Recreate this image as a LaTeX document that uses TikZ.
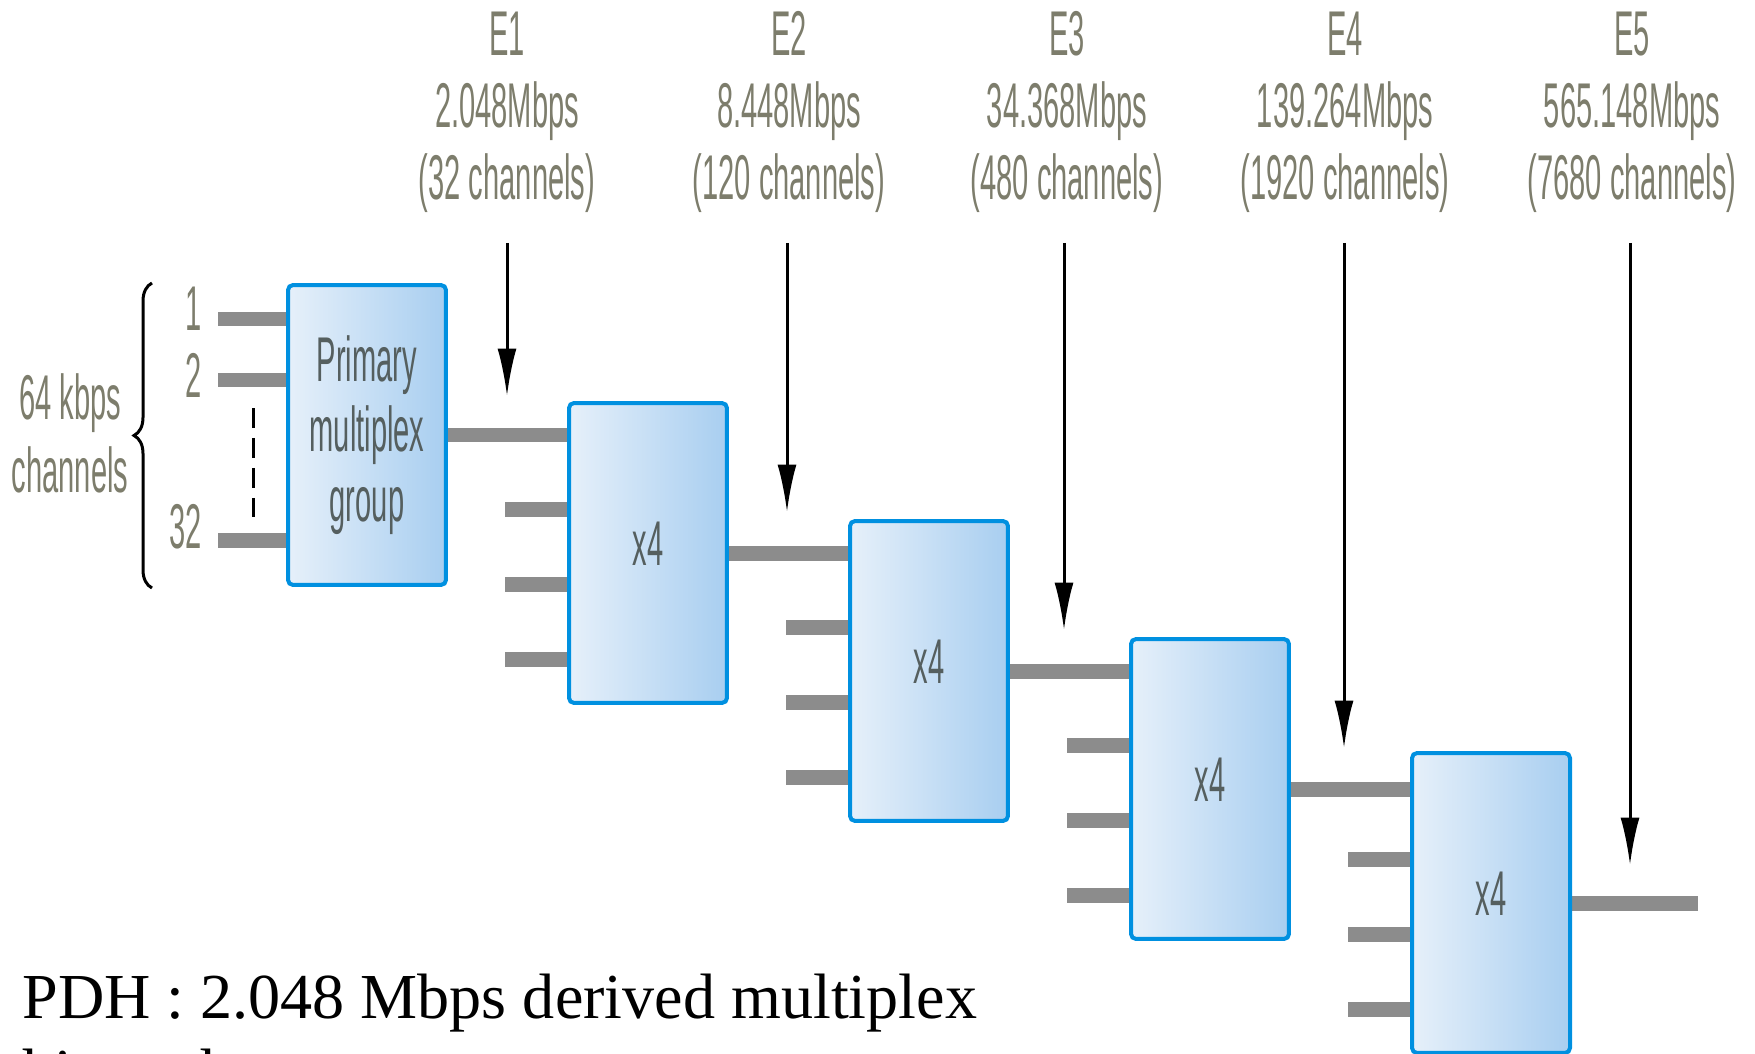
\documentclass[tikz,border=0pt]{standalone}
\usepackage{fontspec}
\setmainfont{Liberation Serif}
\newfontfamily\condfont[FakeStretch=0.46]{Liberation Sans}
\usetikzlibrary{arrows.meta,decorations.pathreplacing,calc,backgrounds}

\definecolor{muxedge}{RGB}{0,144,224}
\definecolor{muxleft}{RGB}{230,240,250}
\definecolor{muxmid}{RGB}{204,230,244}
\definecolor{muxright}{RGB}{168,206,240}
\definecolor{wiregray}{RGB}{140,140,140}
\definecolor{labelgray}{RGB}{125,125,108}
\definecolor{boxtext}{RGB}{85,95,95}

\begin{document}
\begin{tikzpicture}[x=0.02cm,y=-0.02cm,
  mux/.style={draw=muxedge, line width=0.08cm, rounded corners=0.1cm,
    left color=muxleft, middle color=muxmid, right color=muxright,
    minimum width=3.16cm, minimum height=6.0cm, inner sep=0pt, align=center,
    font=\condfont\fontsize{36}{40}\selectfont, text=boxtext},
  quad/.style={mux, text depth=0.36cm},
  wire/.style={draw=wiregray, line width=0.3cm},
  ratelabel/.style={align=center, anchor=base, inner sep=0pt,
    font=\condfont\fontsize{36}{41}\selectfont, text=labelgray},
  chan/.style={anchor=base east, inner sep=0pt,
    font=\condfont\fontsize{36}{41}\selectfont, text=labelgray},
  feed/.style={draw=black, line width=0.06cm, -{Latex[length=0.95cm,width=0.38cm]}},
]
\useasboundingbox (0,0) rectangle (1755,1054);

% multiplexer stages
\node[mux] (pmg) at (367,435) {Primary\\multiplex\\group};
\node[quad] (m2) at (648,553) {x4};
\node[quad] (m3) at (929,671) {x4};
\node[quad] (m4) at (1210,789) {x4};
\node[quad] (m5) at (1491,903) {x4};

% tributary and aggregate lines, behind the boxes
\begin{pgfonlayer}{background}
  \foreach \dy in {-116,-55,105}
    \draw[wire] ($(pmg.west)+(0,\dy)$) -- ++(-68,0);
  \draw[wire] (pmg.east) -- (pmg.east -| m2.west);
  \draw[wire] (m2.east) -- (m2.east -| m3.west);
  \draw[wire] (m3.east) -- (m3.east -| m4.west);
  \draw[wire] (m4.east) -- (m4.east -| m5.west);
  \draw[wire] (m5.east) -- ++(126,0);
  \foreach \m in {m2,m3,m4,m5}
    \foreach \dy in {-44,31,106}
      \draw[wire] ($(\m.west)+(0,\dy)$) -- ++(-62,0);
\end{pgfonlayer}

% 64 kbps inputs
\node[chan] (c1) at (202,331) {1};
\node[chan] (c2) at (202,397) {2};
\node[chan] (c32) at (202,548) {32};
\draw[line width=0.06cm, dash pattern=on 0.4cm off 0.2cm] (253,408) -- (253,517);
\draw[line width=0.06cm, decorate, decoration={brace, amplitude=0.36cm, aspect=0.5}]
  (152,588) -- (152,283);
\node[ratelabel] (inlbl) at (70,492) {64 kbps\\channels};

% hierarchy levels
\node[ratelabel] (e1) at (507,200) {E1\\2.048Mbps\\(32 channels)};
\node[ratelabel] (e2) at (789,200) {E2\\8.448Mbps\\(120 channels)};
\node[ratelabel] (e3) at (1067,200) {E3\\34.368Mbps\\(480 channels)};
\node[ratelabel] (e4) at (1345,200) {E4\\139.264Mbps\\(1920 channels)};
\node[ratelabel] (e5) at (1632,200) {E5\\565.148Mbps\\(7680 channels)};

\coordinate (a1) at (507,243); \coordinate (h1) at (507,396);
\coordinate (a2) at (787,243); \coordinate (h2) at (787,512);
\coordinate (a3) at (1064,243); \coordinate (h3) at (1064,630);
\coordinate (a4) at (1344,243); \coordinate (h4) at (1344,748);
\coordinate (a5) at (1630,243); \coordinate (h5) at (1630,865);
\foreach \k in {1,...,5}
  \draw[feed] (a\k) -- (h\k);

% caption
\node[anchor=base west, inner sep=0pt, align=left,
  font=\fontsize{36.5}{42.5}\selectfont] (caption) at (22,1093)
  {PDH : 2.048 Mbps derived multiplex\\hierarchy};
\end{tikzpicture}
\end{document}
